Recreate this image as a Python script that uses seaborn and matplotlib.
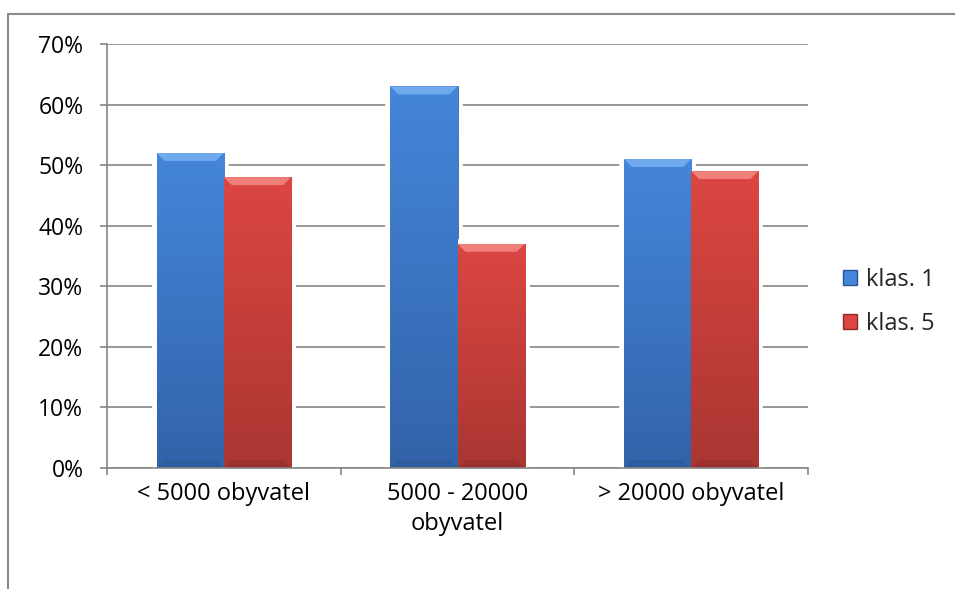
import matplotlib
matplotlib.use("Agg")
import matplotlib.pyplot as plt
from matplotlib.lines import Line2D
from matplotlib.patches import Polygon
from matplotlib.colors import LinearSegmentedColormap
import matplotlib.patheffects as pe
import numpy as np
import seaborn as sns
import pandas as pd

categories = ["< 5000 obyvatel", "5000 - 20000\nobyvatel", "> 20000 obyvatel"]
series = ["klas. 1", "klas. 5"]
klas1 = [0.52, 0.63, 0.51]
klas5 = [0.48, 0.37, 0.49]
yticks = [0, 0.1, 0.2, 0.3, 0.4, 0.5, 0.6, 0.7]
ytick_labels = ["0%", "10%", "20%", "30%", "40%", "50%", "60%", "70%"]

df = pd.DataFrame({
    "kategorie": categories * 2,
    "trida": [series[0]] * 3 + [series[1]] * 3,
    "podil": klas1 + klas5,
})

sns.set_theme(style="white")
plt.rcParams["font.family"] = ["Open Sans", "DejaVu Sans"]

W, H = 955, 589
fig = plt.figure(figsize=(W / 100, H / 100), dpi=100)
ax = fig.add_axes([107 / W, 1 - 468 / H, (808 - 107) / W, (468 - 44) / H])

palette = {"klas. 1": "#3C78C8", "klas. 5": "#C9403C"}
sns.barplot(data=df, x="kategorie", y="podil", hue="trida", palette=palette,
            width=0.575, saturation=1, ax=ax, legend=True, zorder=3)

# gradient fill, bevel and white halo per bar
styles = {
    "klas. 1": dict(top="#4486DA", bottom="#3263A9", light="#79B0F2", dark="#2A568F"),
    "klas. 5": dict(top="#DC4642", bottom="#AA3632", light="#F28A86", dark="#8E2A27"),
}
for cont, name in zip(ax.containers, series):
    st = styles[name]
    cmap = LinearSegmentedColormap.from_list(name, [st["bottom"], st["top"]])
    for bar in cont:
        x0, y0 = bar.get_x(), bar.get_y()
        w, h = bar.get_width(), bar.get_height()
        bar.set_path_effects([pe.withStroke(linewidth=7, foreground="white")])
        bar.set_edgecolor(st["dark"])
        bar.set_linewidth(0.5)
        grad = np.linspace(0, 1, 256).reshape(-1, 1)
        im = ax.imshow(grad, cmap=cmap, origin="lower", aspect="auto",
                       extent=(x0, x0 + w, y0, y0 + h), zorder=3.5)
        im.set_clip_path(bar)
        bx = w * 0.12
        by = 0.013
        ax.add_patch(Polygon([(x0, y0 + h), (x0 + w, y0 + h), (x0 + w - bx, y0 + h - by),
                              (x0 + bx, y0 + h - by)], closed=True, facecolor=st["light"],
                             edgecolor="none", alpha=0.85, zorder=4))
        ax.add_patch(Polygon([(x0, y0), (x0 + w, y0), (x0 + w - bx, y0 + by),
                              (x0 + bx, y0 + by)], closed=True, facecolor=st["dark"],
                             edgecolor="none", alpha=0.45, zorder=4))

ax.set_ylim(0, 0.7)
ax.set_xlim(-0.5, 2.5)
ax.set_yticks(yticks)
ax.set_yticklabels(ytick_labels)
ax.set_xlabel("")
ax.set_ylabel("")

grid_c = "#868686"
ax.yaxis.grid(True, color=grid_c, linewidth=1.2, zorder=0)
ax.set_axisbelow(True)
for s in ["top", "right"]:
    ax.spines[s].set_visible(False)
for s in ["left", "bottom"]:
    ax.spines[s].set_color(grid_c)
    ax.spines[s].set_linewidth(1.2)
    ax.spines[s].set_zorder(6)

ax.tick_params(axis="y", which="major", length=5, width=1.2, color=grid_c,
               labelsize=16.5, pad=12, labelcolor="#000000", left=True)
ax.tick_params(axis="x", which="major", length=0, labelsize=17, pad=10,
               labelcolor="#000000")
ax.set_xticks([-0.5, 0.5, 1.5, 2.5], minor=True)
ax.tick_params(axis="x", which="minor", length=5, width=1.2, color=grid_c, bottom=True)
for lbl in ax.get_xticklabels():
    lbl.set_linespacing(1.35)

leg = ax.legend(loc="center left", bbox_to_anchor=(822 / W, 1 - 302 / H),
                bbox_transform=fig.transFigure, frameon=False, fontsize=17,
                handlelength=0.6, handleheight=0.6, handletextpad=0.35,
                labelspacing=0.85)
for hnd, name in zip(leg.legend_handles, series):
    hnd.set_facecolor(styles[name]["top"])
    hnd.set_edgecolor(styles[name]["dark"])

# outer chart frame
frame_c = "#8A8A8A"
fig.add_artist(Line2D([8 / W, 8 / W], [0, 1 - 14 / H], transform=fig.transFigure,
                      color=frame_c, linewidth=1.5))
fig.add_artist(Line2D([8 / W, 1], [1 - 14 / H, 1 - 14 / H], transform=fig.transFigure,
                      color=frame_c, linewidth=1.5))

fig.savefig("out.png", dpi=100)
